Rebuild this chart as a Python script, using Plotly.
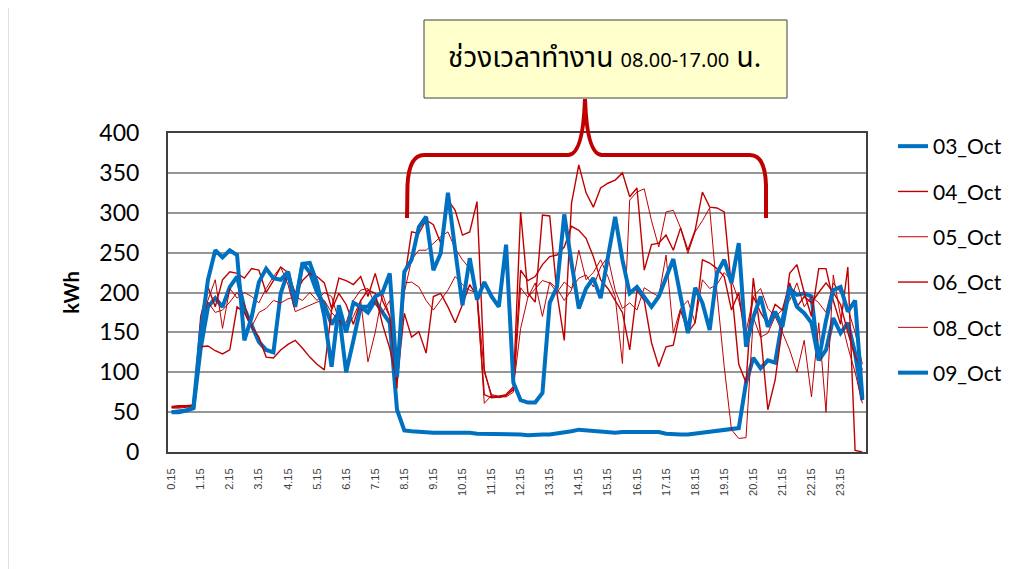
import plotly.graph_objects as go

# ---- data -------------------------------------------------------------
times = ["%d.%02d" % ((i + 1) * 15 // 60, (i + 1) * 15 % 60) for i in range(96)]
tick_labels = times[0::4]          # 0.15, 1.15, ... 23.15

series_names = ['03_Oct', '04_Oct', '05_Oct', '06_Oct', '08_Oct', '09_Oct']

oct03 = [50, 50, 52, 55, 130, 182, 193, 182, 207, 220, 180, 160, 138, 128, 125, 199,
         226, 182, 237, 225, 200, 185, 160, 175, 100, 140, 182, 175, 190, 175, 162, 53,
         27, 26, 25, 25, 24, 24, 24, 25, 25, 24, 23, 23, 22, 22, 23, 22,
         22, 21, 22, 22, 22, 23, 24, 26, 28, 27, 26, 25, 24, 24, 25, 25,
         25, 24, 24, 25, 23, 22, 22, 22, 23, 24, 25, 26, 27, 28, 30, 87,
         118, 105, 115, 112, 165, 205, 197, 199, 195, 115, 128, 168, 149, 162, 124, 65]

oct04 = [56, 57, 57, 58, 170, 207, 182, 216, 226, 224, 218, 230, 228, 200, 215, 232,
         225, 199, 215, 224, 220, 212, 180, 218, 215, 210, 220, 195, 224, 190, 170, 90,
         215, 276, 274, 291, 285, 262, 316, 303, 272, 276, 314, 103, 69, 70, 72, 82,
         301, 199, 188, 297, 296, 199, 140, 312, 360, 325, 307, 331, 337, 341, 350, 320,
         331, 228, 260, 262, 272, 253, 281, 253, 278, 326, 307, 306, 301, 203, 110, 87,
         218, 149, 53, 90, 160, 224, 235, 200, 170, 230, 230, 190, 160, 232, 2, 0]

oct05 = [55, 55, 56, 57, 165, 190, 216, 155, 205, 193, 200, 195, 187, 205, 220, 232,
         210, 176, 180, 185, 188, 190, 175, 165, 153, 170, 190, 113, 150, 199, 170, 80,
         200, 241, 253, 253, 262, 270, 276, 255, 241, 230, 200, 61, 71, 68, 70, 80,
         155, 194, 212, 170, 213, 205, 190, 203, 253, 216, 225, 241, 220, 195, 111, 316,
         326, 330, 290, 257, 301, 303, 281, 249, 276, 290, 306, 200, 107, 28, 17, 18,
         169, 144, 149, 170, 150, 128, 100, 140, 69, 162, 50, 222, 170, 132, 100, 61]

oct06 = [57, 58, 58, 59, 132, 133, 127, 123, 128, 182, 175, 157, 144, 119, 118, 128,
         135, 140, 130, 119, 110, 103, 178, 199, 185, 160, 190, 203, 199, 160, 130, 88,
         174, 144, 151, 124, 195, 199, 182, 162, 185, 210, 195, 72, 68, 69, 71, 78,
         228, 215, 220, 235, 245, 247, 257, 283, 278, 268, 245, 216, 205, 190, 175, 128,
         203, 190, 137, 107, 132, 134, 178, 150, 162, 241, 237, 230, 220, 178, 200, 132,
         195, 175, 160, 185, 178, 212, 182, 195, 187, 200, 212, 200, 185, 150, 120, 103]

oct08 = [56, 56, 57, 58, 160, 188, 175, 178, 188, 200, 185, 157, 175, 180, 190, 187,
         192, 195, 190, 200, 190, 200, 195, 165, 162, 190, 203, 205, 185, 175, 190, 95,
         212, 213, 207, 190, 178, 190, 203, 220, 210, 203, 199, 100, 72, 70, 69, 75,
         206, 194, 205, 215, 212, 200, 213, 205, 218, 222, 207, 232, 245, 203, 180, 187,
         178, 206, 200, 195, 247, 149, 180, 190, 162, 216, 205, 210, 225, 215, 190, 150,
         195, 205, 180, 170, 178, 190, 212, 182, 195, 187, 175, 212, 200, 180, 150, 110]

oct09 = [50, 51, 52, 56, 150, 216, 253, 244, 253, 247, 140, 169, 213, 230, 218, 216,
         226, 187, 236, 237, 212, 170, 107, 184, 150, 187, 182, 182, 195, 200, 224, 94,
         226, 241, 282, 295, 228, 249, 325, 253, 184, 243, 191, 213, 195, 182, 260, 87,
         65, 62, 62, 74, 187, 207, 298, 237, 180, 205, 218, 193, 241, 295, 241, 199,
         207, 195, 182, 195, 218, 242, 195, 149, 206, 187, 153, 224, 241, 212, 262, 132,
         169, 195, 157, 176, 157, 207, 182, 174, 162, 115, 165, 203, 207, 176, 190, 68]

all_series = [oct03, oct04, oct05, oct06, oct08, oct09]

# ---- styling ----------------------------------------------------------
BLUE = '#0070C0'
RED = '#C00000'
styles = [(BLUE, 4), (RED, 1.4), (RED, 1.0), (RED, 1.4), (RED, 1.0), (BLUE, 4)]

OFF = 8                               # page body margin
W, H = 1030 - OFF, 569 - OFF
L, R, T, B = 168 - OFF, 866 - OFF, 133 - OFF, 452 - OFF   # plot area (figure px)


def px(x):
    # x given in screenshot pixels
    return (x - OFF - L) / (R - L)


def py(y):
    return (B - (y - OFF)) / (B - T)


fig = go.Figure()
for k, (name, vals) in enumerate(zip(series_names, all_series)):
    col, wid = styles[k]
    fig.add_trace(go.Scatter(x=times, y=vals, name=name, mode='lines',
                             line=dict(color=col, width=wid),
                             legendgroup=name))

# curly brace marking working hours
brace = ("M {a},{b} L {c},{d} Q {e},{f} {g},{f} L {h},{f} Q {i},{f} {j},{k} "
         "Q {l},{f} {m},{f} L {n},{f} Q {o},{f} {p},{q} L {p},{b}").format(
    a=px(407), b=py(218), c=px(407.5), d=py(185), e=px(409), f=py(155), g=px(424),
    h=px(568), i=px(583), j=px(585), k=py(99), l=px(587), m=px(602),
    n=px(750), o=px(765), p=px(766), q=py(185))

fig.update_layout(
    width=W, height=H,
    margin=dict(l=L, r=W - R, t=T, b=H - B, autoexpand=False),
    paper_bgcolor='white', plot_bgcolor='white',
    font=dict(family='Lato, Carlito, Arial', color='black'),
    showlegend=True,
    legend=dict(x=px(893), y=py(126), xanchor='left', yanchor='top',
                font=dict(size=21, family='Lato, Carlito, Arial'),
                tracegroupgap=15, bgcolor='rgba(0,0,0,0)'),
    xaxis=dict(type='category', categoryorder='array', categoryarray=times,
               range=[-0.5, 95.5], tickmode='array', tickvals=tick_labels,
               ticktext=tick_labels, tickangle=-90, showgrid=False,
               tickfont=dict(size=11, family='Liberation Sans, Arial', color='#404040'),
               showline=True, linecolor='#404040', linewidth=2, mirror=True,
               ticks='', ticklabelstandoff=10),
    yaxis=dict(range=[0, 400], dtick=50, showgrid=True, gridcolor='#969696',
               gridwidth=1.5, zeroline=False, showline=True, linecolor='#404040',
               linewidth=2, mirror=True, ticks='', ticklabelstandoff=22,
               tickfont=dict(size=23, family='Lato, Carlito, Arial'),
               title=dict(text='<b>kWh</b>', font=dict(size=20), standoff=14)),
    shapes=[
        dict(type='path', xref='paper', yref='paper', path=brace,
             line=dict(color=RED, width=4), layer='above'),
        dict(type='rect', xref='paper', yref='paper', x0=px(424), x1=px(787),
             y0=py(98), y1=py(20), fillcolor='#FFFFCC', line=dict(color='#404040', width=1)),
        dict(type='line', xref='paper', yref='paper', x0=px(8), x1=px(8),
             y0=py(0), y1=py(569), line=dict(color='#BFBFBF', width=1)),
    ],
    annotations=[
        dict(xref='paper', yref='paper', x=px(604), y=py(59), yanchor='middle',
             showarrow=False,
             text="ช่วงเวลาทำงาน <span style='font-size:20px'>08.00-17.00</span> น.",
             font=dict(size=28, family='Noto Sans Thai, Tahoma, Noto Sans, sans-serif',
                       color='black')),
    ],
)

fig.write_html("out.html")
